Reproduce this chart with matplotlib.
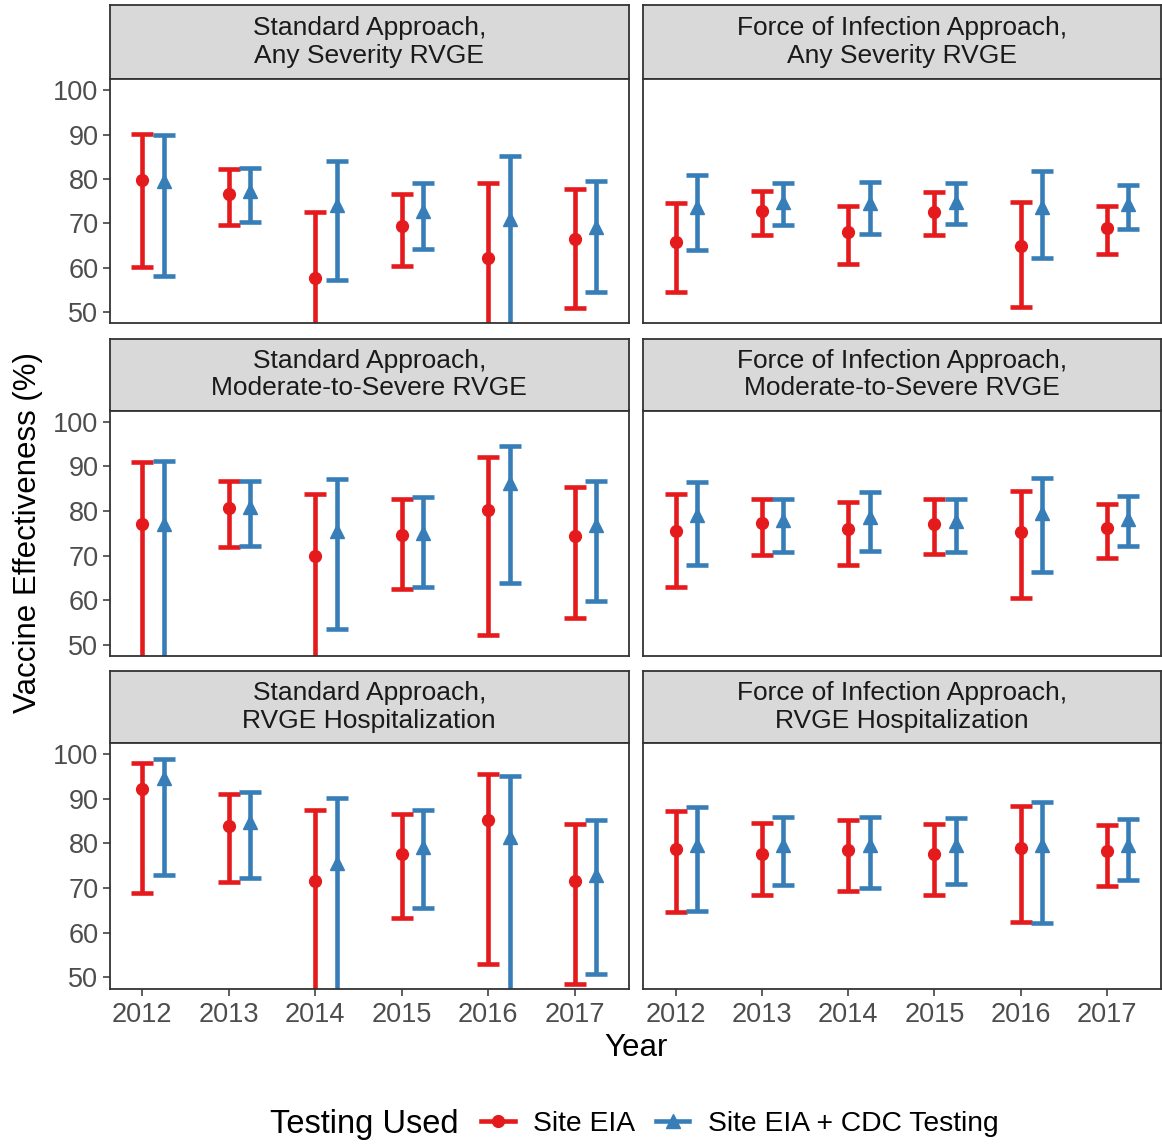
import numpy as np
import matplotlib
matplotlib.use('Agg')
import matplotlib.pyplot as plt
from matplotlib.lines import Line2D

plt.rcParams['font.family'] = ['Liberation Sans', 'DejaVu Sans']

years = [2012, 2013, 2014, 2015, 2016, 2017]

# (estimate, lower, upper) per year
std_any_eia = [(79.7, 60.1, 90.1), (76.6, 69.6, 82.3), (57.7, 30.0, 72.5),
               (69.4, 60.4, 76.6), (62.2, 35.0, 79.1), (66.6, 50.9, 77.8)]
std_any_cdc = [(79.6, 58.2, 90.0), (77.4, 70.3, 82.5), (74.1, 57.3, 84.1),
               (72.8, 64.3, 79.2), (70.9, 38.0, 85.2), (69.2, 54.5, 79.5)]
foi_any_eia = [(65.9, 54.6, 74.6), (72.8, 67.3, 77.2), (68.1, 60.9, 74.0),
               (72.6, 67.4, 77.1), (64.9, 51.3, 74.9), (69.0, 63.1, 74.0)]
foi_any_cdc = [(73.7, 64.0, 80.9), (74.8, 69.6, 79.2), (74.6, 67.7, 79.3),
               (74.8, 69.8, 79.0), (73.7, 62.3, 81.7), (74.3, 68.7, 78.7)]
std_mod_eia = [(77.1, 30.0, 90.9), (80.7, 71.9, 86.7), (70.0, 35.0, 83.7),
               (74.5, 62.5, 82.7), (80.2, 52.2, 92.0), (74.4, 56.1, 85.4)]
std_mod_cdc = [(77.1, 32.0, 91.1), (80.8, 72.2, 86.8), (75.4, 53.5, 87.1),
               (75.0, 62.9, 83.1), (86.3, 63.9, 94.6), (76.8, 59.8, 86.6)]
foi_mod_eia = [(75.4, 63.0, 83.8), (77.2, 70.2, 82.6), (76.0, 67.9, 82.1),
               (77.1, 70.4, 82.6), (75.2, 60.5, 84.5), (76.2, 69.5, 81.5)]
foi_mod_cdc = [(79.2, 67.9, 86.4), (77.9, 70.8, 82.7), (78.6, 71.1, 84.3),
               (77.7, 70.9, 82.7), (79.5, 66.3, 87.4), (78.1, 72.1, 83.4)]
std_hosp_eia = [(92.2, 68.9, 98.1), (83.8, 71.4, 91.1), (71.6, 30.0, 87.4),
                (77.6, 63.2, 86.5), (85.2, 53.1, 95.6), (71.6, 48.5, 84.4)]
std_hosp_cdc = [(94.7, 73.0, 99.0), (84.7, 72.3, 91.6), (75.6, 35.0, 90.1),
                (79.3, 65.5, 87.5), (81.5, 40.0, 95.1), (72.9, 50.7, 85.3)]
foi_hosp_eia = [(78.8, 64.7, 87.3), (77.7, 68.4, 84.5), (78.5, 69.3, 85.2),
                (77.7, 68.5, 84.3), (79.0, 62.3, 88.4), (78.3, 70.5, 84.2)]
foi_hosp_cdc = [(79.6, 64.9, 88.2), (79.6, 70.6, 86.0), (79.6, 70.1, 86.0),
                (79.6, 70.9, 85.8), (79.6, 62.1, 89.2), (79.6, 71.7, 85.4)]

strip_titles = [
    ['Standard Approach,\nAny Severity RVGE', 'Force of Infection Approach,\nAny Severity RVGE'],
    ['Standard Approach,\nModerate-to-Severe RVGE', 'Force of Infection Approach,\nModerate-to-Severe RVGE'],
    ['Standard Approach,\nRVGE Hospitalization', 'Force of Infection Approach,\nRVGE Hospitalization'],
]
panels = [
    [(std_any_eia, std_any_cdc), (foi_any_eia, foi_any_cdc)],
    [(std_mod_eia, std_mod_cdc), (foi_mod_eia, foi_mod_cdc)],
    [(std_hosp_eia, std_hosp_cdc), (foi_hosp_eia, foi_hosp_cdc)],
]
series_labels = ['Site EIA', 'Site EIA + CDC Testing']
RED = '#E41A1C'
BLUE = '#377EB8'
DARK = '#333333'

W, H = 1162, 1144
fig = plt.figure(figsize=(W / 100, H / 100), dpi=100)


def box(x0, y0, x1, y1):
    return [x0 / W, 1 - y1 / H, (x1 - x0) / W, (y1 - y0) / H]


cols = [(109.5, 629), (643, 1161)]
rows = [(5, 79, 323.5), (338.5, 410.5, 656), (671, 743, 988.5)]

for r, (s_top, p_top, p_bot) in enumerate(rows):
    for c, (x0, x1) in enumerate(cols):
        # strip
        sax = fig.add_axes(box(x0, s_top, x1, p_top))
        sax.set_facecolor('#D9D9D9')
        sax.set_xticks([]); sax.set_yticks([])
        for sp in sax.spines.values():
            sp.set_color(DARK); sp.set_linewidth(1.3)
        sax.text(0.5, 0.5, strip_titles[r][c], ha='center', va='center',
                 fontsize=19, color='#1A1A1A', linespacing=1.18,
                 transform=sax.transAxes)

        ax = fig.add_axes(box(x0, p_top, x1, p_bot))
        eia, cdc = panels[r][c]
        yrs = np.array(years, dtype=float)
        for data, off, col, mk, ms in [(eia, 0.0, RED, 'o', 8.5), (cdc, 0.25, BLUE, '^', 9.5)]:
            arr = np.array(data)
            est, lo, hi = arr[:, 0], arr[:, 1], arr[:, 2]
            ax.errorbar(yrs + off, est, yerr=[est - lo, hi - est], fmt=mk,
                        color=col, ms=ms, lw=3.3, capsize=8, capthick=3.3)
        ax.set_xlim(2011.62, 2017.63)
        ax.set_ylim(47.5, 102.5)
        ax.set_xticks(years)
        ax.set_yticks([50, 60, 70, 80, 90, 100])
        for sp in ax.spines.values():
            sp.set_color(DARK); sp.set_linewidth(1.3)
        ax.tick_params(colors=DARK, labelcolor='#4D4D4D', labelsize=19.5,
                       length=5, width=1.1, pad=3)
        ax.tick_params(axis='x', pad=5)
        if c == 1:
            ax.tick_params(axis='y', left=False, labelleft=False)
        if r < 2:
            ax.tick_params(axis='x', bottom=False, labelbottom=False)

fig.text(636 / W, 1 - 1048 / H, 'Year', ha='center', va='center',
         fontsize=22.5, color='black')
fig.text(28 / W, 1 - 533 / H, 'Vaccine Effectiveness (%)', ha='center',
         va='center', rotation=90, fontsize=22.5, color='black')

handles = [Line2D([], [], color=RED, marker='o', ms=8.5, lw=3.3),
           Line2D([], [], color=BLUE, marker='^', ms=9.5, lw=3.3)]
fig.text(270 / W, 1 - 1124 / H, 'Testing Used', ha='left', va='center',
         fontsize=23.5, color='black')
fig.legend(handles, series_labels, loc='center left',
           bbox_to_anchor=(481 / W, 1 - 1124 / H), ncol=2, frameon=False,
           fontsize=20.3, handlelength=1.2, handletextpad=0.65,
           columnspacing=0.72, borderaxespad=0, borderpad=0)

fig.savefig('out.png', dpi=100, facecolor='white')
